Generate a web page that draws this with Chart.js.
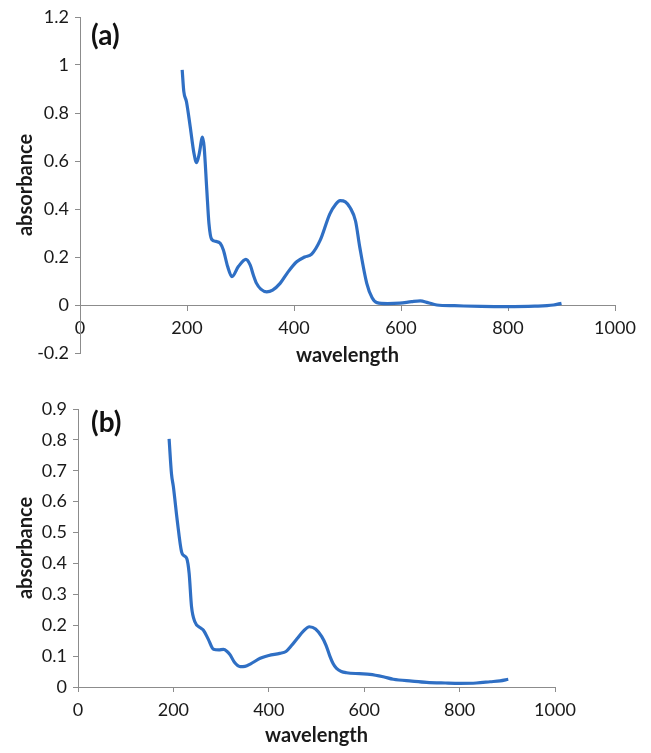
<!DOCTYPE html>
<html>
<head>
<meta charset="utf-8">
<script src="https://cdn.jsdelivr.net/npm/chart.js@4.4.1/dist/chart.umd.min.js"></script>
<style>
  html, body { margin: 0; padding: 0; background: #fff; }
  .panel { position: absolute; left: 0; width: 651px; }
  #panelA { top: 0; height: 376px; }
  #panelB { top: 376px; height: 377px; }
</style>
</head>
<body>
<div class="panel" id="panelA"><canvas id="chartA" width="651" height="376"></canvas></div>
<div class="panel" id="panelB"><canvas id="chartB" width="651" height="377"></canvas></div>
<script>
// Panel (a) spectrum
const wavelengthA = [191, 194, 199, 206, 213, 218, 223, 229, 232, 237, 241, 246, 254, 262, 268, 276, 284, 296, 310, 318, 324, 330, 338, 349, 360, 374, 388, 405, 420, 433, 449, 467, 478, 486, 496, 505, 515, 523, 536, 546, 555, 575, 598, 620, 636, 650, 667, 700, 750, 797, 850, 885, 900];
const absorbanceA = [0.98, 0.89, 0.847, 0.743, 0.632, 0.593, 0.632, 0.70, 0.66, 0.48, 0.34, 0.274, 0.265, 0.257, 0.229, 0.16, 0.118, 0.16, 0.19, 0.167, 0.125, 0.09, 0.066, 0.055, 0.062, 0.09, 0.135, 0.18, 0.2, 0.212, 0.27, 0.38, 0.42, 0.435, 0.43, 0.405, 0.35, 0.24, 0.09, 0.03, 0.01, 0.006, 0.008, 0.014, 0.017, 0.01, 0.0, -0.003, -0.006, -0.007, -0.005, 0.0, 0.007];

// Panel (b) spectrum
const wavelengthB = [191, 196, 200, 208, 217, 222, 228, 233, 238, 245, 256, 263, 273, 284, 295, 305, 312, 319, 328, 340, 350, 362, 382, 400, 423, 436, 448, 460, 472, 485, 498, 511, 520, 528, 535, 542, 552, 563, 590, 612, 640, 661, 700, 731, 770, 801, 835, 864, 885, 902];
const absorbanceB = [0.803, 0.69, 0.648, 0.54, 0.438, 0.425, 0.416, 0.368, 0.26, 0.211, 0.192, 0.184, 0.155, 0.122, 0.12, 0.122, 0.116, 0.104, 0.08, 0.066, 0.067, 0.075, 0.093, 0.102, 0.109, 0.115, 0.135, 0.158, 0.18, 0.195, 0.188, 0.163, 0.135, 0.10, 0.075, 0.06, 0.05, 0.046, 0.043, 0.041, 0.033, 0.025, 0.019, 0.015, 0.013, 0.012, 0.013, 0.017, 0.02, 0.025];

const axisColor = '#8c8c8c';
const textColor = '#1a1a1a';
const lineColor = '#2f6fc4';
const tickFont = { family: 'Lato', size: 18 };
const titleFont = { family: 'Lato', size: 20, weight: 'bold' };

// draws the "(a)" / "(b)" tag in the top-left corner of the plot
const panelTag = {
    id: 'panelTag',
    afterDraw(chart, args, opts) {
        const ctx = chart.ctx;
        ctx.save();
        ctx.font = 'bold 28px Lato';
        ctx.fillStyle = '#111';
        ctx.textBaseline = 'middle';
        ctx.fillText(opts.text, opts.x, opts.y);
        ctx.restore();
    }
};

function makeChart(id, xs, ys, cfg) {
    return new Chart(document.getElementById(id), {
        type: 'line',
        data: {
            datasets: [{
                data: xs.map((x, i) => ({ x: x, y: ys[i] })),
                borderColor: lineColor,
                borderWidth: 3.2,
                pointRadius: 0,
                fill: false,
                cubicInterpolationMode: 'monotone'
            }]
        },
        options: {
            responsive: false,
            animation: false,
            events: [],
            layout: { padding: { top: cfg.top, right: cfg.right, bottom: cfg.bottom, left: 0 } },
            plugins: {
                legend: { display: false },
                tooltip: { enabled: false },
                panelTag: { text: cfg.tag, x: 91, y: cfg.tagY }
            },
            scales: {
                x: {
                    type: 'linear',
                    position: cfg.xPos,
                    min: 0,
                    max: 1000,
                    ticks: {
                        stepSize: 200,
                        font: tickFont,
                        color: textColor,
                        padding: 7,
                        maxRotation: 0,
                        callback: (v) => String(v)
                    },
                    grid: { drawOnChartArea: false, drawTicks: true, tickLength: 5, color: axisColor },
                    border: { display: true, color: axisColor, width: 1 },
                    title: { display: true, text: 'wavelength', font: titleFont, color: textColor, padding: { top: 6, bottom: cfg.xTitlePad } },
                    afterFit: (s) => { s.height = cfg.xHeight; }
                },
                y: {
                    min: cfg.yMin,
                    max: cfg.yMax,
                    ticks: {
                        stepSize: cfg.yStep,
                        font: tickFont,
                        color: textColor,
                        padding: 6,
                        callback: (v) => Number(v.toFixed(1)).toString()
                    },
                    grid: { drawOnChartArea: false, drawTicks: true, tickLength: 5, color: axisColor },
                    border: { display: true, color: axisColor, width: 1 },
                    title: { display: true, text: 'absorbance', font: titleFont, color: textColor, padding: { top: 14, bottom: 0 } },
                    afterFit: (s) => { s.width = cfg.yWidth; }
                }
            }
        },
        plugins: [panelTag]
    });
}

makeChart('chartA', wavelengthA, absorbanceA, {
    top: 17, right: 36, bottom: 23, yWidth: 80, yMin: -0.2, yMax: 1.2, yStep: 0.2,
    xPos: { y: 0 }, xHeight: 67, xTitlePad: 4, tag: '(a)', tagY: 36
});

makeChart('chartB', wavelengthB, absorbanceB, {
    top: 33, right: 96, bottom: 0, yWidth: 78, yMin: 0, yMax: 0.9, yStep: 0.1,
    xPos: 'bottom', xHeight: 66, xTitlePad: 5, tag: '(b)', tagY: 47
});
</script>
</body>
</html>
